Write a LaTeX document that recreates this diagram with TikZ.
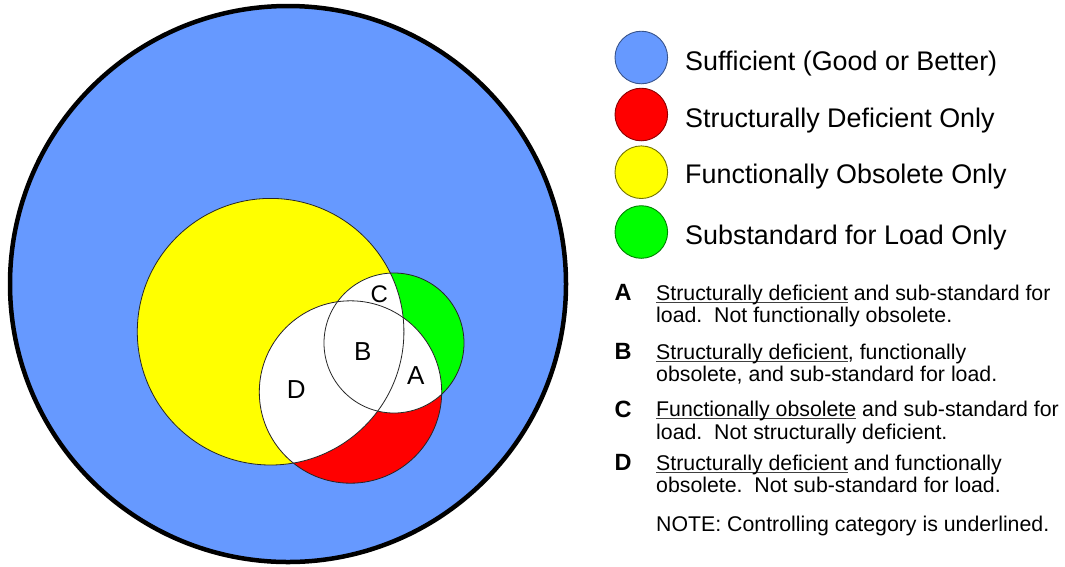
\documentclass[tikz,border=0pt]{standalone}
\usepackage{fontspec}
\setmainfont{Liberation Sans}
\definecolor{sufblue}{HTML}{6699FF}
\definecolor{sdred}{HTML}{FF0000}
\definecolor{foyellow}{HTML}{FFFF00}
\definecolor{slgreen}{HTML}{00FF00}
\newcommand{\ulx}[1]{\setbox0\hbox{#1}\rlap{\color{black!75}\rule[-2.6pt]{\wd0}{1pt}}#1}
\begin{document}
\begin{tikzpicture}[x=1pt,y=-1pt,
  outline/.style={draw=black!85, line width=0.8pt},
  legdot/.style={circle, inner sep=0pt, minimum size=52.6pt, line width=0.9pt},
  legtext/.style={anchor=base west, inner sep=0pt, font=\fontsize{26.9}{32}\selectfont},
  keyletter/.style={anchor=base west, inner sep=0pt, font=\fontsize{23.5}{26}\selectfont\bfseries},
  desc/.style={anchor=base west, inner sep=0pt, font=\fontsize{21.3}{24}\selectfont},
  lbl/.style={inner sep=0pt, font=\fontsize{26}{30}\selectfont}]
\useasboundingbox (0,0) rectangle (1065,566);
\fill[white] (0,0) rectangle (1065,566);

% centres
\coordinate (O) at (288,284);
\coordinate (Y) at (270.6,331.7);
\coordinate (R) at (350.5,392);
\coordinate (G) at (394,343);

% big circle
\path[fill=sufblue, draw=black, line width=4.5pt] (O) circle[radius=278pt];

% coloured sets
\fill[foyellow] (Y) circle[radius=133.3pt];
\fill[sdred] (R) circle[radius=91.2pt];
\fill[slgreen] (G) circle[radius=70pt];

% white intersections
\begin{scope}
  \clip (Y) circle[radius=133.3pt];
  \fill[white] (R) circle[radius=91.2pt];
  \fill[white] (G) circle[radius=70pt];
\end{scope}
\begin{scope}
  \clip (R) circle[radius=91.2pt];
  \fill[white] (G) circle[radius=70pt];
\end{scope}

% outlines
\draw[outline] (Y) circle[radius=133.3pt];
\draw[outline] (R) circle[radius=91.2pt];
\draw[outline] (G) circle[radius=70pt];

% region labels
\node[lbl] (lA) at (415.8,375.8) {A};
\node[lbl] (lB) at (362.8,351.2) {B};
\node[lbl, font=\fontsize{24}{28}\selectfont] (lC) at (379.2,294.5) {C};
\node[lbl] (lD) at (296.3,389.7) {D};

% legend
\node[legdot, fill=sufblue, draw=sufblue!55!black] (k1) at (641.3,57.5) {};
\node[legdot, fill=sdred, draw=sdred!55!black] (k2) at (641.3,114.5) {};
\node[legdot, fill=foyellow, draw=foyellow!45!black] (k3) at (641.3,172.2) {};
\node[legdot, fill=slgreen, draw=slgreen!50!black] (k4) at (641.3,232) {};
\node[legtext] (t1) at (685,70.7) {Sufficient (Good or Better)};
\node[legtext] (t2) at (685,127.3) {Structurally Deficient Only};
\node[legtext] (t3) at (685,183.3) {Functionally Obsolete Only};
\node[legtext] (t4) at (685,244) {Substandard for Load Only};

% descriptions
\node[keyletter] (dA) at (614.5,300.5) {A};
\node[desc] (dA1) at (656,300) {\ulx{Structurally deficient} and sub-standard for};
\node[desc] (dA2) at (656,322) {load.\ \ Not functionally obsolete.};

\node[keyletter] (dB) at (614.5,359.8) {B};
\node[desc] (dB1) at (656,359.5) {\ulx{Structurally deficient}, functionally};
\node[desc] (dB2) at (656,381.3) {obsolete, and sub-standard for load.};

\node[keyletter] (dC) at (614.5,417.2) {C};
\node[desc] (dC1) at (656,416.7) {\ulx{Functionally obsolete} and sub-standard for};
\node[desc] (dC2) at (656,439.3) {load.\ \ Not structurally deficient.};

\node[keyletter] (dD) at (614.5,470.8) {D};
\node[desc] (dD1) at (656,470.5) {\ulx{Structurally deficient} and functionally};
\node[desc] (dD2) at (656,492.2) {obsolete.\ \ Not sub-standard for load.};

\node[desc] (note) at (656,531.7) {NOTE: Controlling category is underlined.};
\end{tikzpicture}
\end{document}
